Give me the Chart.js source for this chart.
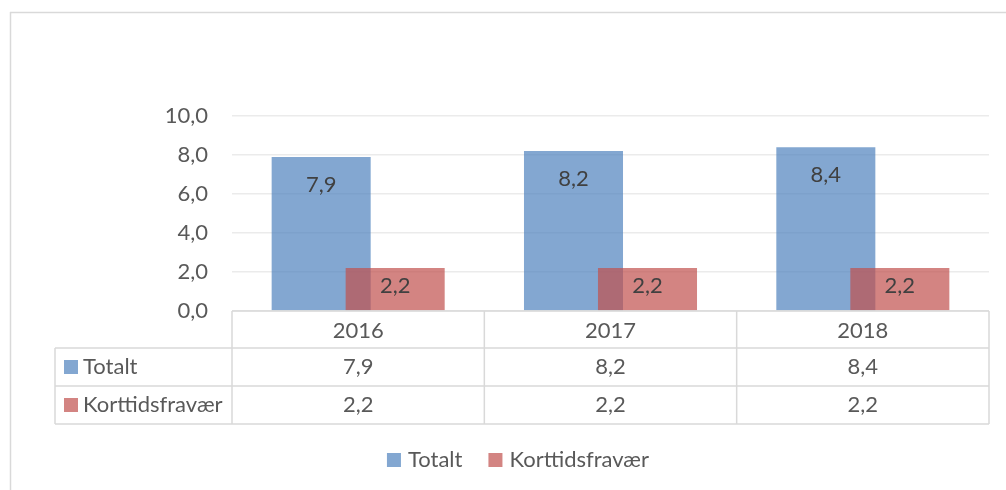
<!DOCTYPE html>
<html><head><meta charset="utf-8">
<script src="https://cdn.jsdelivr.net/npm/chart.js@4/dist/chart.umd.min.js"></script>
<style>html,body{margin:0;padding:0;background:#fff;} canvas{display:block}</style>
</head><body>
<canvas id="c" width="1006" height="490"></canvas>
<script>
const categories = ['2016', '2017', '2018'];
const seriesNames = ['Totalt', 'Korttidsfravær'];
const totalt = [7.9, 8.2, 8.4];
const korttid = [2.2, 2.2, 2.2];
const yTickLabels = ['0,0', '2,0', '4,0', '6,0', '8,0', '10,0'];

const FONT = "Lato, 'Open Sans', sans-serif";
const FS = 22;
const colors = ['rgba(79,129,189,0.7)', 'rgba(192,80,77,0.7)'];
const fmt = v => v.toFixed(1).replace('.', ',');
const seriesData = [totalt, korttid];

const excelPlugin = {
  id: 'excel',
  beforeDraw(chart) {
    const ctx = chart.ctx;
    ctx.save();
    ctx.fillStyle = '#fff';
    ctx.fillRect(0, 0, chart.width, chart.height);
    ctx.strokeStyle = '#D9D9D9';
    ctx.lineWidth = 1.5;
    ctx.beginPath();
    ctx.moveTo(10, 12.5); ctx.lineTo(chart.width, 12.5);
    ctx.moveTo(10.5, 12); ctx.lineTo(10.5, chart.height);
    ctx.stroke();
    ctx.restore();
  },
  beforeDatasetsDraw(chart) {
    chart.getDatasetMeta(0).controller.draw();
  },
  beforeDatasetDraw(chart, args) {
    if (args.index === 0) return false;
  },
  afterDatasetsDraw(chart) {
    const ctx = chart.ctx;
    ctx.save();
    ctx.font = FS + 'px ' + FONT;
    ctx.fillStyle = '#404040';
    ctx.textAlign = 'center';
    ctx.textBaseline = 'middle';
    const offs = [28, 18];
    for (let d = 0; d < 2; d++) {
      const meta = chart.getDatasetMeta(d);
      meta.data.forEach((bar, i) => {
        ctx.fillText(fmt(seriesData[d][i]), bar.x, bar.y + offs[d]);
      });
    }
    ctx.restore();
  },
  afterDraw(chart) {
    const ctx = chart.ctx;
    const area = chart.chartArea;
    const xs = chart.scales.x;
    const half = (area.right - area.left) / categories.length / 2;
    const y0 = area.bottom, y1 = y0 + 37, y2 = y0 + 75, y3 = y0 + 113;
    const leftX = 55;
    ctx.save();
    ctx.strokeStyle = '#D9D9D9';
    ctx.lineWidth = 1.5;
    ctx.beginPath();
    ctx.moveTo(area.left, y0); ctx.lineTo(area.right, y0);
    [y1, y2, y3].forEach(y => { ctx.moveTo(leftX, y); ctx.lineTo(area.right, y); });
    ctx.moveTo(leftX, y1); ctx.lineTo(leftX, y3);
    ctx.moveTo(area.left, y0); ctx.lineTo(area.left, y3);
    categories.forEach((c, i) => {
      const r = xs.getPixelForValue(i) + half;
      ctx.moveTo(r, y0); ctx.lineTo(r, y3);
    });
    ctx.stroke();

    ctx.font = FS + 'px ' + FONT;
    ctx.fillStyle = '#595959';
    ctx.textAlign = 'center';
    ctx.textBaseline = 'middle';
    categories.forEach((c, i) => {
      const cx = xs.getPixelForValue(i);
      ctx.fillText(c, cx, (y0 + y1) / 2 + 1);
      ctx.fillText(fmt(totalt[i]), cx, (y1 + y2) / 2);
      ctx.fillText(fmt(korttid[i]), cx, (y2 + y3) / 2);
    });
    // row headers
    ctx.textAlign = 'left';
    [[y1, y2], [y2, y3]].forEach((r, k) => {
      const cy = (r[0] + r[1]) / 2;
      ctx.fillStyle = colors[k];
      ctx.fillRect(64, cy - 7, 14, 14);
      ctx.fillStyle = '#595959';
      ctx.fillText(seriesNames[k], 83, cy);
    });
    // legend
    const w0 = ctx.measureText(seriesNames[0]).width;
    const w1 = ctx.measureText(seriesNames[1]).width;
    const total = 14 + 7 + w0 + 26 + 14 + 7 + w1;
    let lx = 518 - total / 2;
    const ly = 460;
    [w0, w1].forEach((w, k) => {
      ctx.fillStyle = colors[k];
      ctx.fillRect(lx, ly - 7, 14, 14);
      ctx.fillStyle = '#595959';
      ctx.fillText(seriesNames[k], lx + 21, ly);
      lx += 21 + w + 26;
    });
    ctx.restore();
  }
};

new Chart(document.getElementById('c'), {
  type: 'bar',
  data: {
    labels: categories,
    datasets: [
      { label: seriesNames[0], data: totalt, backgroundColor: colors[0], categoryPercentage: 0.5866, barPercentage: 1.338 },
      { label: seriesNames[1], data: korttid, backgroundColor: colors[1], categoryPercentage: 0.5866, barPercentage: 1.338 }
    ]
  },
  options: {
    responsive: false,
    animation: false,
    devicePixelRatio: 1,
    layout: { padding: { left: 0, right: 17, top: 116, bottom: 179 } },
    plugins: { legend: { display: false }, tooltip: { enabled: false } },
    scales: {
      x: { display: false },
      y: {
        min: 0, max: 10,
        afterFit(axis) { axis.width = 232; },
        ticks: {
          stepSize: 2,
          padding: 24,
          color: '#595959',
          font: { family: FONT, size: FS },
          callback: (v, i) => yTickLabels[i]
        },
        border: { display: false },
        grid: { color: '#EBEBEB', lineWidth: 1.5, drawTicks: false }
      }
    }
  },
  plugins: [excelPlugin]
});
</script>
</body></html>
